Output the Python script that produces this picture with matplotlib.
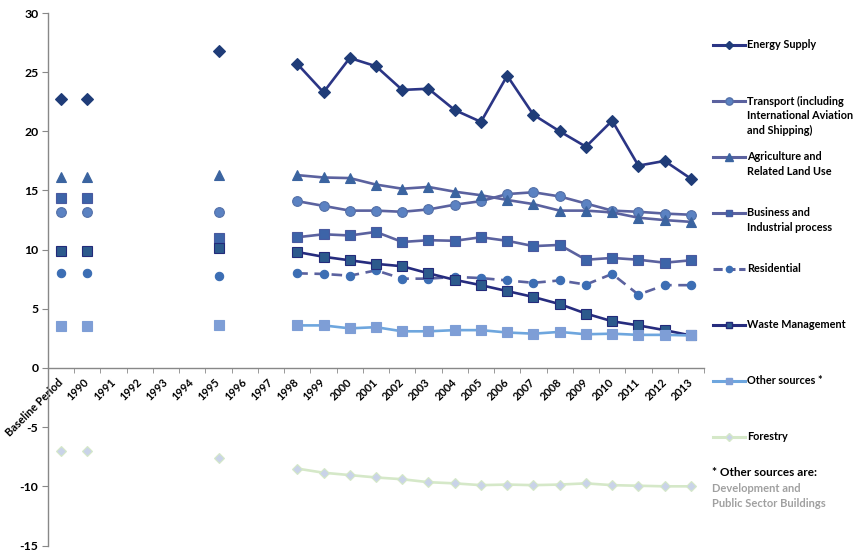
import matplotlib
matplotlib.use('Agg')
import matplotlib.pyplot as plt
from matplotlib.lines import Line2D
import numpy as np

plt.rcParams['font.family'] = ['Lato', 'DejaVu Sans']

# categories on the x axis
categories = ['Baseline Period'] + [str(y) for y in range(1990, 2014)]
early_labels = ['Baseline Period', '1990', '1995']
late_labels = [str(y) for y in range(1998, 2014)]

# values (MtCO2e) - isolated points for baseline/1990/1995, then a line 1998-2013
energy_early = [22.7, 22.7, 26.8]
energy = [25.7, 23.3, 26.2, 25.5, 23.5, 23.6, 21.8, 20.8, 24.7, 21.4, 20.0, 18.7, 20.9, 17.1, 17.5, 16.0]

transport_early = [13.2, 13.2, 13.2]
transport = [14.1, 13.7, 13.3, 13.3, 13.2, 13.4, 13.8, 14.1, 14.7, 14.85, 14.5, 13.9, 13.3, 13.2, 13.05, 12.95]

agri_early = [16.1, 16.1, 16.3]
agri = [16.3, 16.1, 16.05, 15.5, 15.15, 15.3, 14.9, 14.6, 14.2, 13.85, 13.3, 13.3, 13.15, 12.7, 12.5, 12.35]

business_early = [14.35, 14.35, 10.95]
business = [11.05, 11.3, 11.2, 11.5, 10.65, 10.8, 10.75, 11.05, 10.75, 10.3, 10.4, 9.15, 9.3, 9.15, 8.9, 9.1]

residential_early = [8.05, 8.0, 7.8]
residential = [8.0, 7.95, 7.8, 8.25, 7.55, 7.55, 7.7, 7.6, 7.4, 7.2, 7.4, 7.05, 7.95, 6.2, 7.0, 7.0]

waste_early = [9.9, 9.9, 10.1]
waste = [9.8, 9.4, 9.1, 8.8, 8.6, 8.0, 7.45, 7.0, 6.5, 6.0, 5.4, 4.6, 3.95, 3.6, 3.2, 2.75]

other_early = [3.55, 3.55, 3.6]
other = [3.6, 3.6, 3.35, 3.45, 3.1, 3.1, 3.2, 3.2, 3.0, 2.9, 3.05, 2.85, 2.9, 2.8, 2.8, 2.75]

forestry_early = [-7.05, -7.05, -7.6]
forestry = [-8.5, -8.85, -9.05, -9.25, -9.4, -9.65, -9.75, -9.9, -9.85, -9.9, -9.85, -9.75, -9.9, -9.95, -10.0, -10.0]

series_names = ['Energy Supply',
                'Transport (including\nInternational Aviation\nand Shipping)',
                'Agriculture and\nRelated Land Use',
                'Business and\nIndustrial process',
                'Residential',
                'Waste Management',
                'Other sources *',
                'Forestry']

styles = [
    dict(color='#2B3585', marker='D', mfc='#1F3C78', mec='#1F3C78', ms=6, ls='-'),
    dict(color='#5B629F', marker='o', mfc='#5B82C2', mec='#5470A8', ms=7, ls='-'),
    dict(color='#5B629F', marker='^', mfc='#3B64A0', mec='#3B64A0', ms=7, ls='-'),
    dict(color='#5B629F', marker='s', mfc='#3D64A8', mec='#4A5AA0', ms=6.5, ls='-'),
    dict(color='#5B629F', marker='o', mfc='#3C6EB4', mec='#3C6EB4', ms=6, ls=(0, (4, 2.5))),
    dict(color='#262C7E', marker='s', mfc='#2C5A8C', mec='#232A7A', ms=6.5, ls='-'),
    dict(color='#6EA6DE', marker='s', mfc='#7E9ED6', mec='#7E9ED6', ms=6.5, ls='-'),
    dict(color='#D5E8C8', marker='D', mfc='#C9D3E8', mec='#D5E8C8', ms=5.5, ls='-'),
]

early_data = [energy_early, transport_early, agri_early, business_early,
              residential_early, waste_early, other_early, forestry_early]
late_data = [energy, transport, agri, business, residential, waste, other, forestry]

x_early = [categories.index(c) for c in early_labels]
x_late = [categories.index(c) for c in late_labels]

fig = plt.figure(figsize=(8.6, 5.57), dpi=100)
ax = fig.add_axes([48 / 860, 1 - 545.5 / 557, 656 / 860, 532.5 / 557])

for early, late, st in zip(early_data, late_data, styles):
    ax.plot(x_late, late, color=st['color'], lw=1.9, ls=st['ls'], marker=st['marker'],
            ms=st['ms'], mfc=st['mfc'], mec=st['mec'], mew=0.8)
    ax.plot(x_early, early, ls='none', marker=st['marker'],
            ms=st['ms'], mfc=st['mfc'], mec=st['mec'], mew=0.8)

# move the x axis to y=0 first (this resets the ticks)
ax.spines['bottom'].set_position(('data', 0))
for s in ['top', 'right']:
    ax.spines[s].set_visible(False)
for s in ['left', 'bottom']:
    ax.spines[s].set_color('#888888')
    ax.spines[s].set_linewidth(1.0)

ax.set_xlim(-0.5, len(categories) - 0.5)
ax.set_ylim(-15, 30)
ax.set_yticks(np.arange(-15, 31, 5))
ax.set_yticklabels([str(v) for v in range(-15, 31, 5)], fontsize=8.8, fontweight='bold')

ax.set_xticks(range(len(categories)))
ax.set_xticklabels(categories, rotation=45, ha='right', va='center',
                   rotation_mode='anchor', fontsize=7.9, fontweight='bold')
ax.set_xticks(np.arange(-0.5, len(categories), 1), minor=True)
ax.tick_params(axis='x', which='major', length=0, pad=9)
ax.tick_params(axis='x', which='minor', length=3.5, color='#888888', direction='out')
ax.tick_params(axis='y', length=4, color='#888888', direction='out', pad=3)

# legend drawn by hand to match the evenly spaced entries
def fx(px):
    return px / 860

def fy(py):
    return 1 - py / 557

for i, (name, st) in enumerate(zip(series_names, styles)):
    y = 45 + 56 * i
    fig.add_artist(Line2D([fx(713), fx(745)], [fy(y), fy(y)], color=st['color'], lw=2.2,
                          ls=st['ls'] if i != 4 else (0, (3, 1.2))))
    fig.add_artist(Line2D([fx(729)], [fy(y)], marker=st['marker'], ms=st['ms'] * 0.75,
                          mfc=st['mfc'], mec=st['mec'], ls='none'))
    for k, line in enumerate(name.split('\n')):
        fig.text(fx(747), fy(y + 14.7 * k), line, fontsize=7.8, fontweight='bold',
                 va='center', ha='left', color='black')

fig.text(fx(712), fy(472), '* Other sources are:', fontsize=8.5, fontweight='bold',
         va='center', ha='left', color='black')
fig.text(fx(712), fy(488), 'Development and', fontsize=8, fontweight='bold',
         va='center', ha='left', color='#A0A0A0')
fig.text(fx(712), fy(503.5), 'Public Sector Buildings', fontsize=8, fontweight='bold',
         va='center', ha='left', color='#A0A0A0')

fig.savefig('out.png', dpi=100)
